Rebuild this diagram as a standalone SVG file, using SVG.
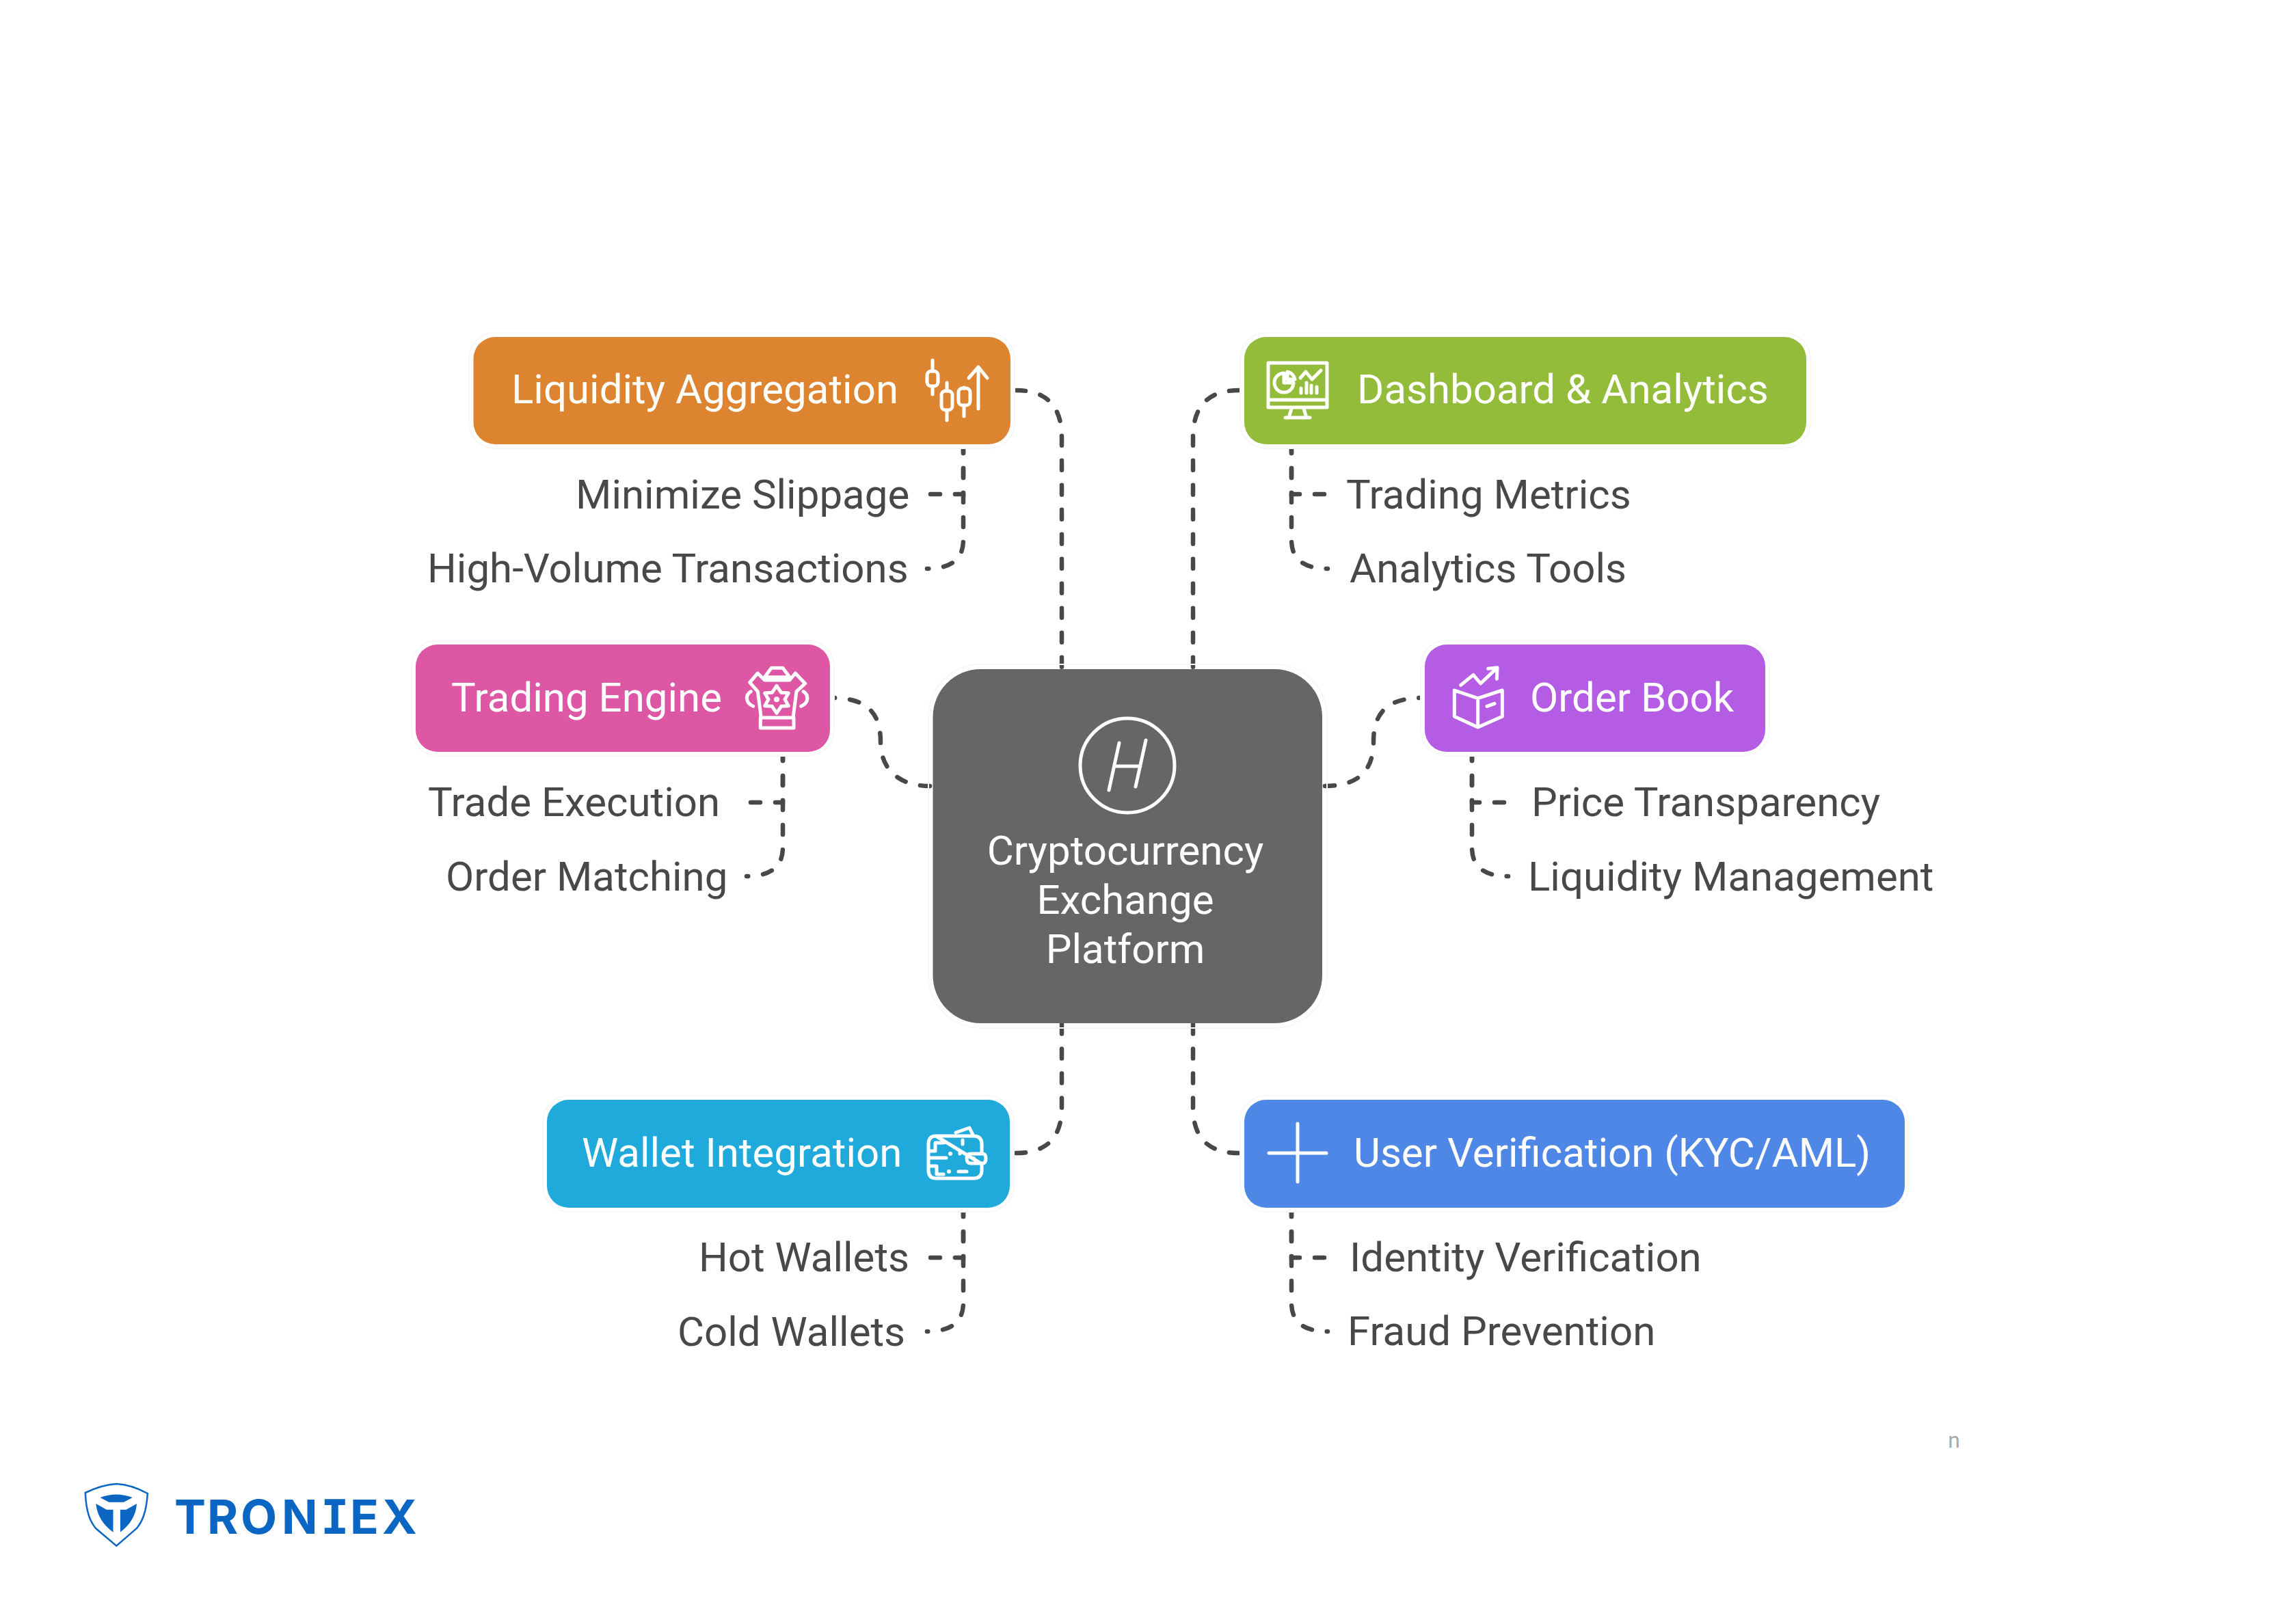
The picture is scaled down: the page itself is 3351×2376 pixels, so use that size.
<svg xmlns="http://www.w3.org/2000/svg" width="3351" height="2376" viewBox="0 0 3351 2376">
<style>
text{font-family:Roboto,"Liberation Sans",sans-serif;font-size:60px}
.w{fill:#fff}.d{fill:#484848}
.halo{fill:#fff;stroke:#f7f7f7;stroke-width:2}
.c{fill:none;stroke:#484848;stroke-width:6.5;stroke-linecap:round;stroke-dasharray:14 22}
.i{fill:none;stroke:#fff;stroke-width:5;stroke-linecap:round;stroke-linejoin:round}
.i3{fill:none;stroke:#fff;stroke-width:15;stroke-linecap:round;stroke-linejoin:round}
.b{fill:#fff;stroke:none}
.lg{fill:#0a66c2}
</style>
<rect width="3351" height="2376" fill="#fff"/>
<g id="connectors">
<path class="c" d="M1486 571Q1553 571 1553 640V979"/>
<path class="c" d="M1812 571Q1745 571 1745 640V979"/>
<path class="c" d="M1486 1687Q1553 1687 1553 1620V1497"/>
<path class="c" d="M1812 1687Q1745 1687 1745 1620V1497"/>
<path class="c" d="M1360 1150C1320 1150 1288 1130 1288 1085C1288 1040 1265 1021 1216 1021"/>
<path class="c" d="M1938 1150C1984 1150 2009 1130 2009 1085C2009 1040 2032 1021 2081 1021"/>
<path class="c" d="M1409 649V723H1356"/>
<path class="c" d="M1409 649V790Q1409 832 1356 832"/>
<path class="c" d="M1889 649V723H1942"/>
<path class="c" d="M1889 649V790Q1889 832 1942 832"/>
<path class="c" d="M1145 1099V1174H1092"/>
<path class="c" d="M1145 1099V1240Q1145 1282 1092 1282"/>
<path class="c" d="M2153 1099V1174H2206"/>
<path class="c" d="M2153 1099V1240Q2153 1282 2206 1282"/>
<path class="c" d="M1409 1766V1840H1356"/>
<path class="c" d="M1409 1766V1906Q1409 1948 1356 1948"/>
<path class="c" d="M1889 1766V1840H1942"/>
<path class="c" d="M1889 1766V1906Q1889 1948 1942 1948"/>
</g>
<g id="center">
<rect class="halo" x="1358" y="972" width="583" height="532" rx="76" fill-opacity="0"/>
<rect x="1364.5" y="979" width="569.5" height="518" rx="70" fill="#666"/>
<circle class="i" cx="1649" cy="1120" r="69"/>
<path class="i" d="M1637 1087L1622 1156M1676 1083L1661 1151M1630 1121H1668"/>
<text class="w" x="1646" y="1265" text-anchor="middle">Cryptocurrency</text>
<text class="w" x="1646" y="1337" text-anchor="middle">Exchange</text>
<text class="w" x="1646" y="1409" text-anchor="middle">Platform</text>
</g>
<g id="liquidity">
<rect class="halo" x="686" y="487" width="798" height="169" rx="38"/>
<rect x="692.5" y="493" width="785.5" height="157" rx="32" fill="#dd8431"/>
<text class="w" x="748" y="590">Liquidity Aggregation</text>
<path class="i" d="M1364 527V543M1364 565V577M1385 560V572M1385 600V615M1410 567V568M1410 593V609M1431 598V537M1417 553L1431 537L1444 553"/>
<rect class="i" x="1356" y="543" width="16" height="22" rx="6"/><rect class="i" x="1377" y="572" width="16" height="28" rx="6"/><rect class="i" x="1402" y="568" width="17" height="25" rx="6"/>
</g>
<g id="minimize"><text class="d" x="842" y="744">Minimize Slippage</text></g>
<g id="highvolume"><text class="d" x="625" y="852">High-Volume Transactions</text></g>
<g id="dashboard">
<rect class="halo" x="1814" y="487" width="834" height="169" rx="38"/>
<rect x="1820" y="493" width="822" height="157" rx="32" fill="#93bc3b"/>
<text class="w" x="1985" y="590">Dashboard &amp; Analytics</text>
<path class="i" d="M1855 531H1941V596H1855ZM1855 585H1941M1889 598L1885 611M1907 598L1911 611M1880 611H1916M1878 546A14 14 0 1 0 1892 560H1878ZM1883 544A14 14 0 0 1 1894 555H1883ZM1902 553L1910 544L1919 555L1932 542"/>
<path class="i" d="M1903 568V575M1911 560V575M1918 564V575M1926 566V575"/>
</g>
<g id="trading-metrics"><text class="d" x="1969" y="744">Trading Metrics</text></g>
<g id="analytics-tools"><text class="d" x="1974" y="852">Analytics Tools</text></g>
<g id="engine">
<rect class="halo" x="602" y="937" width="618" height="169" rx="38"/>
<rect x="608" y="943" width="606" height="157" rx="32" fill="#de57a4"/>
<text class="w" x="660" y="1041">Trading Engine</text>
<g transform="translate(1080 970) scale(.3333)">
<path class="i3" d="M115 62L145 22H195L225 62ZM50 85L85 45L115 75H225L250 45L293 90L255 125L240 240H100L85 125ZM55 125C30 140 30 175 65 190M285 125C310 140 310 175 275 190M97 240V285H243V240M168 100L188 130L220 132L204 160L220 188L188 190L168 220L148 190L116 188L132 160L116 132L148 130Z"/>
<circle class="b" cx="168" cy="160" r="12"/>
</g>
</g>
<g id="trade-execution"><text class="d" x="626" y="1194">Trade Execution</text></g>
<g id="order-matching"><text class="d" x="652" y="1303">Order Matching</text></g>
<g id="orderbook">
<rect class="halo" x="2078" y="937" width="510" height="169" rx="38"/>
<rect x="2084" y="943" width="498" height="157" rx="32" fill="#b55ce4"/>
<text class="w" x="2238" y="1041">Order Book</text>
<g transform="translate(2120 970) scale(.3333)">
<path class="i3" d="M22 120L125 155L232 120V235L125 282L22 235ZM125 155V280M165 190L198 178M50 97L105 52L137 90L205 25M170 25L210 20L208 70"/>
</g>
</g>
<g id="price-transparency"><text class="d" x="2240" y="1194">Price Transparency</text></g>
<g id="liquidity-management"><text class="d" x="2235" y="1303">Liquidity Management</text></g>
<g id="wallet">
<rect class="halo" x="794" y="1603" width="689" height="170" rx="38"/>
<rect x="800" y="1609" width="677" height="158" rx="32" fill="#1faadb"/>
<text class="w" x="851" y="1707">Wallet Integration</text>
<path class="i" d="M1369 1662H1424Q1436 1662 1436 1674V1687M1436 1703V1712Q1436 1724 1424 1724H1369Q1358 1724 1358 1712V1674Q1358 1662 1369 1662ZM1398 1657L1418 1650L1424 1662M1420 1688H1437Q1442 1688 1442 1695Q1442 1702 1437 1702H1420Q1414 1702 1414 1695Q1414 1688 1420 1688ZM1368 1672H1380M1368 1672V1684H1358M1358 1694H1384M1360 1706H1370V1718H1380M1408 1668V1674M1402 1714H1414M1404 1688V1684"/>
<circle class="b" cx="1390" cy="1688" r="3"/><circle class="b" cx="1388" cy="1714" r="3"/><circle class="b" cx="1424" cy="1695" r="3"/>
</g>
<g id="hot-wallets"><text class="d" x="1022" y="1860">Hot Wallets</text></g>
<g id="cold-wallets"><text class="d" x="991" y="1969">Cold Wallets</text></g>
<g id="kyc">
<rect class="halo" x="1814" y="1603" width="978" height="170" rx="38"/>
<rect x="1820" y="1609" width="966" height="158" rx="32" fill="#4f87e6"/>
<text class="w" x="1980" y="1707">User Verification (KYC/AML)</text>
<path class="i" d="M1898 1644V1729M1856 1687H1940"/>
</g>
<g id="identity"><text class="d" x="1974" y="1860">Identity Verification</text></g>
<g id="fraud"><text class="d" x="1971" y="1968">Fraud Prevention</text></g>
<text x="2858" y="2118" text-anchor="middle" style="font-size:32px" fill="#aaa">n</text>
<g id="logo">
<path d="M124.8 2184Q150 2172 170.3 2171Q192 2172 215.9 2185C214 2213 208 2226 200 2236L170.3 2261.7L140 2236C132 2226 126 2213 124.8 2184Z" fill="none" stroke="#0a66c2" stroke-width="2.5"/>
<path class="lg" d="M146.5 2191Q170 2182 193.8 2191L181 2197.7H159.3ZM140.3 2200L155.9 2208.7H165.5V2241.7C152 2232 142 2218 140.3 2200ZM200 2200L184.5 2208.7H175.9V2241.7C189 2232 199 2218 200 2200Z"/>
<text class="lg" y="2244" style="font-family:Inter,Roboto,sans-serif;font-size:69px;font-weight:700"><tspan x="255">T</tspan><tspan x="303">R</tspan><tspan x="352">O</tspan><tspan x="412">N</tspan><tspan x="469" style="font-family:'DejaVu Sans Mono',monospace">I</tspan><tspan x="512">E</tspan><tspan x="559">X</tspan></text>
</g>
</svg>
